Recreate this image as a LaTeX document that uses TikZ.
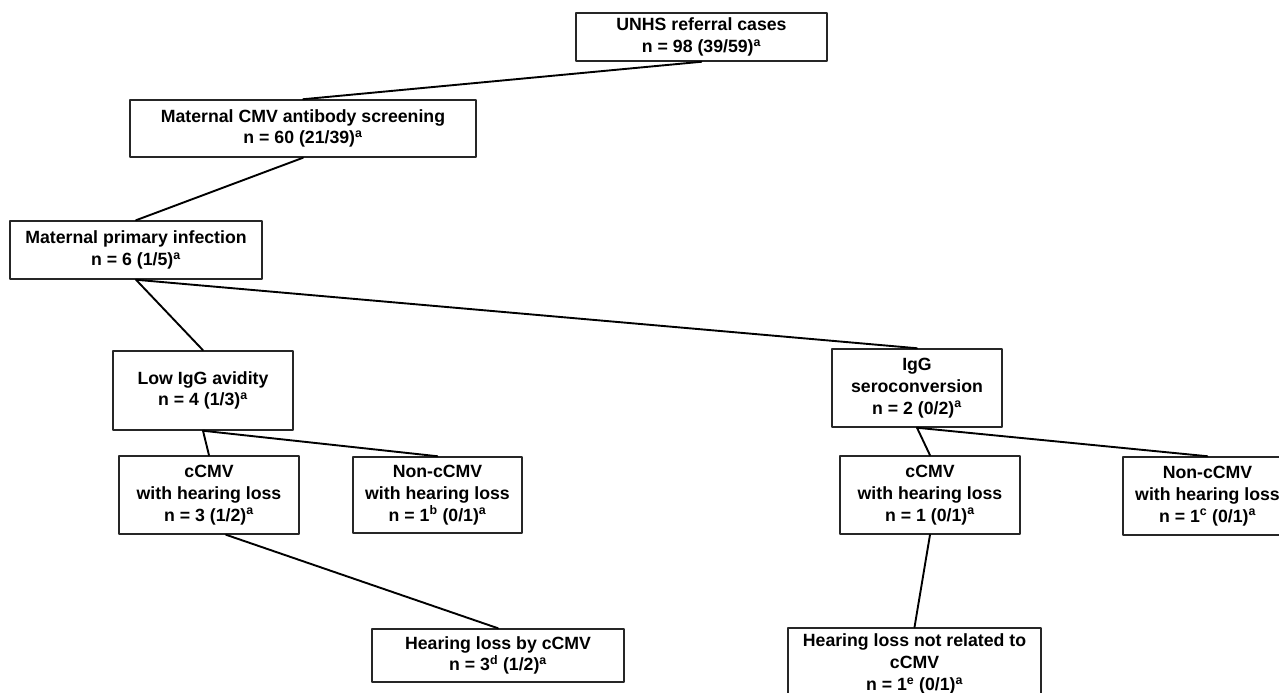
\documentclass[tikz,border=0pt]{standalone}
\usepackage{fontspec}
\setmainfont{Liberation Sans}
\usepackage{tikz}

\begin{document}
\begin{tikzpicture}[x=1pt, y=-1pt, line join=round, line cap=round,
    box/.style={draw=black!85, line width=1.5pt, align=center, inner sep=0pt,
      font=\fontsize{17.7}{21.7}\selectfont\bfseries},
    link/.style={line width=1.9pt}]
      \def\sa{\textsuperscript{a}}

      \useasboundingbox (0,0) rectangle (1279,693);
      \clip (0,0) rectangle (1279,693);

      % top of the tree
      \node[box, minimum width=251, minimum height=48] (unhs) at (701.5,37)
        {UNHS referral cases\\n = 98 (39/59)\sa};
      \node[box, minimum width=346, minimum height=57] (screen) at (303,128.5)
        {Maternal CMV antibody screening\\n = 60 (21/39)\sa};
      \node[box, minimum width=252, minimum height=58] (primary) at (136,250)
        {Maternal primary infection\\n = 6 (1/5)\sa};

      % two branches
      \node[box, minimum width=180, minimum height=79] (lowavid) at (203,390.5)
        {Low IgG avidity\\n = 4 (1/3)\sa};
      \node[box, minimum width=170, minimum height=78] (serocon) at (917,388)
        {IgG\\seroconversion\\n = 2 (0/2)\sa};

      \node[box, minimum width=180, minimum height=78] (ccmvL) at (209,495)
        {cCMV\\with hearing loss\\n = 3 (1/2)\sa};
      \node[box, minimum width=169, minimum height=76] (noncL) at (437.5,495)
        {Non-cCMV\\with hearing loss\\n = 1\textsuperscript{b} (0/1)\sa};
      \node[box, minimum width=180, minimum height=78] (ccmvR) at (930,495)
        {cCMV\\with hearing loss\\n = 1 (0/1)\sa};
      \node[box, minimum width=169, minimum height=78] (noncR) at (1207.5,496)
        {Non-cCMV\\with hearing loss\\n = 1\textsuperscript{c} (0/1)\sa};

      % bottom row
      \node[box, minimum width=252, minimum height=53] (hlcmv) at (498,655.5)
        {Hearing loss by cCMV\\n = 3\textsuperscript{d} (1/2)\sa};
      \node[box, minimum width=253, minimum height=72] (hlnot) at (914.5,664)
        {Hearing loss not related to\\cCMV\\n = 1\textsuperscript{e} (0/1)\sa};

      % connectors
      \draw[link] (unhs.south) -- (screen.north);
      \draw[link] (screen.south) -- (primary.north);
      \draw[link] (primary.south) -- (lowavid.north);
      \draw[link] (primary.south) -- (serocon.north);
      \draw[link] (lowavid.south) -- (ccmvL.north);
      \draw[link] (lowavid.south) -- (noncL.north);
      \draw[link] (serocon.south) -- (ccmvR.north);
      \draw[link] (serocon.south) -- (noncR.north);
      \draw[link] ([xshift=17]ccmvL.south) -- (hlcmv.north);
      \draw[link] (ccmvR.south) -- (hlnot.north);

    \end{tikzpicture}
\end{document}
